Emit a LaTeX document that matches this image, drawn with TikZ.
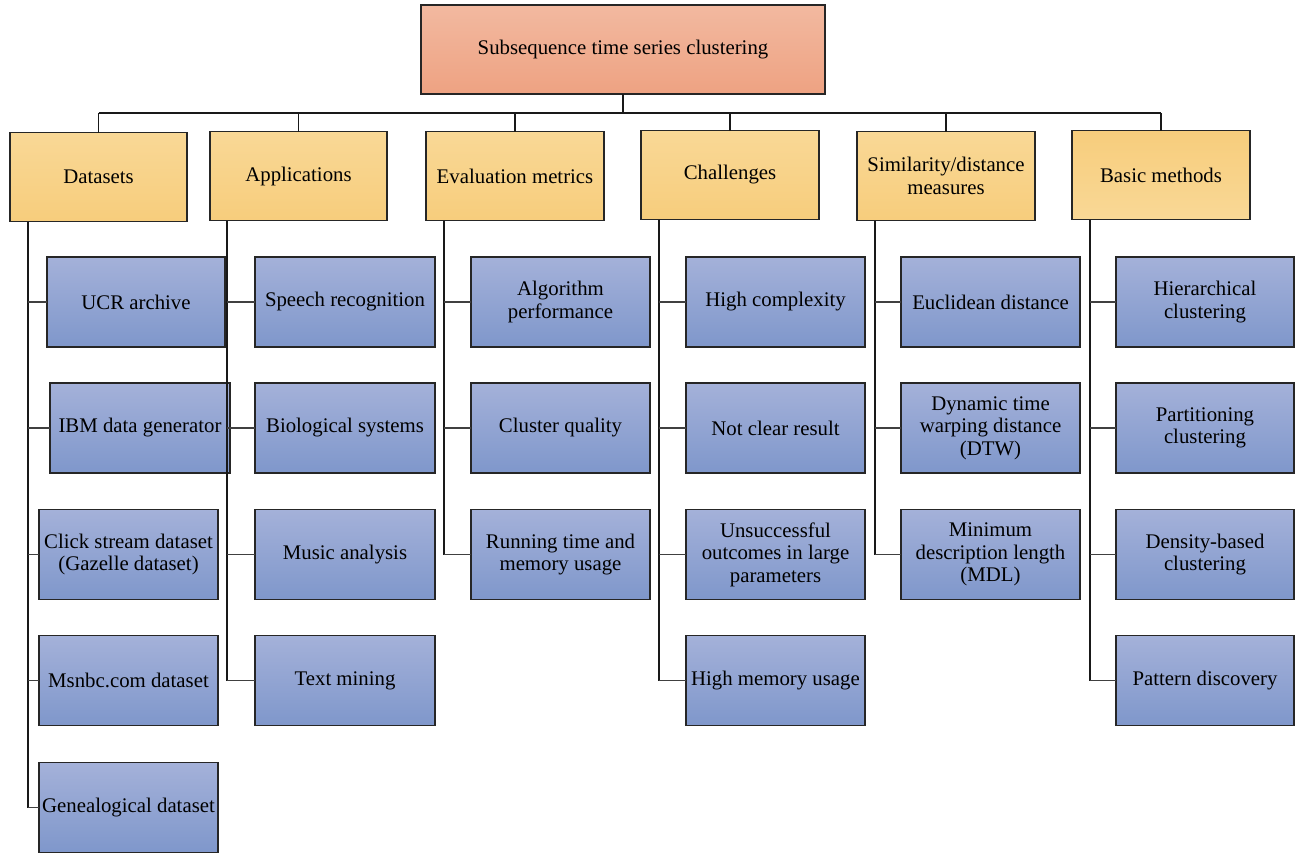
\documentclass[tikz,border=0pt]{standalone}
\usepackage{fontspec}
\setmainfont{Liberation Serif}
\begin{document}
\begin{tikzpicture}[x=0.75pt,y=-0.75pt,
  every node/.style={outer sep=0pt,inner sep=1pt,align=center,font=\fontsize{15.6}{16.8}\selectfont},
  base/.style={draw=black!85,line width=0.8pt,minimum width=#1*0.75pt},
  topbox/.style={base=#1,top color=topA,bottom color=topB,minimum height=89*0.75pt},
  catbox/.style={base=#1,top color=catA,bottom color=catB,minimum height=89*0.75pt},
  catboxr/.style={base=#1,top color=catB,bottom color=catA,minimum height=89*0.75pt},
  leaf/.style={base=#1,top color=leafA,bottom color=leafB,minimum height=90*0.75pt},
  conn/.style={draw=black!90,line width=1pt},
  stub/.style={draw=black!75,line width=0.9pt}
]
\definecolor{topA}{HTML}{F2B9A0}
\definecolor{topB}{HTML}{EEA282}
\definecolor{catA}{HTML}{F9D896}
\definecolor{catB}{HTML}{F7CD7C}
\definecolor{leafA}{HTML}{A4B1D9}
\definecolor{leafB}{HTML}{7F97CB}
\useasboundingbox (0,0) rectangle (1295,853);

% root
\node[topbox=404] (root) at (623,49.5) {Subsequence time series clustering};

% categories
\node[catbox=177] (ds) at (98.5,177) {Datasets};
\node[catbox=177] (ap) at (298.5,176) {Applications};
\node[catbox=178] (ev) at (515,176) {Evaluation metrics};
\node[catbox=178] (ch) at (730,175) {Challenges};
\node[catbox=178] (sm) at (946,176) {Similarity/distance\\measures};
\node[catboxr=178] (bm) at (1161,175) {Basic methods};

% bus
\coordinate (bus) at (623,113);
\draw[conn] (root.south) -- (bus);
\draw[conn] (ds.north |- bus) -- (bm.north |- bus);
\foreach \n in {ds,ap,ev,ch,sm,bm}{\draw[conn] (\n.north) -- (\n.north |- bus);}

% datasets
\node[leaf=178] (d1) at (136,302) {UCR archive};
\node[leaf=180] (d2) at (140,428) {IBM data generator};
\node[leaf=179] (d3) at (128.5,554.5) {Click stream dataset\\(Gazelle dataset)};
\node[leaf=179] (d4) at (128.5,680.5) {Msnbc.com dataset};
\node[leaf=179] (d5) at (128.5,807.5) {Genealogical dataset};

% applications
\node[leaf=180] (a1) at (345,302) {Speech recognition};
\node[leaf=180] (a2) at (345,428) {Biological systems};
\node[leaf=180] (a3) at (345,554.5) {Music analysis};
\node[leaf=180] (a4) at (345,680.5) {Text mining};

% evaluation
\node[leaf=179] (e1) at (560.5,302) {Algorithm\\performance};
\node[leaf=179] (e2) at (560.5,428) {Cluster quality};
\node[leaf=179] (e3) at (560.5,554.5) {Running time and\\memory usage};

% challenges
\node[leaf=179] (c1) at (775.5,302) {High complexity};
\node[leaf=179] (c2) at (775.5,428) {Not clear result};
\node[leaf=179] (c3) at (775.5,554.5) {Unsuccessful\\outcomes in large\\parameters};
\node[leaf=179] (c4) at (775.5,680.5) {High memory usage};

% similarity
\node[leaf=179] (s1) at (990.5,302) {Euclidean distance};
\node[leaf=179] (s2) at (990.5,428) {Dynamic time\\warping distance\\(DTW)};
\node[leaf=179] (s3) at (990.5,554.5) {Minimum\\description length\\(MDL)};

% basic methods
\node[leaf=178] (b1) at (1205,302) {Hierarchical\\clustering};
\node[leaf=178] (b2) at (1205,428) {Partitioning\\clustering};
\node[leaf=178] (b3) at (1205,554.5) {Density-based\\clustering};
\node[leaf=178] (b4) at (1205,680.5) {Pattern discovery};

% spines
\coordinate (dsS) at ([xshift=18*0.75pt]ds.south west);
\coordinate (apS) at ([xshift=17*0.75pt]ap.south west);
\coordinate (evS) at ([xshift=18*0.75pt]ev.south west);
\coordinate (chS) at ([xshift=18*0.75pt]ch.south west);
\coordinate (smS) at ([xshift=18*0.75pt]sm.south west);
\coordinate (bmS) at ([xshift=18*0.75pt]bm.south west);

\draw[conn] (dsS) -- (dsS |- d5.west);
\draw[conn] (apS) -- (apS |- a4.west);
\draw[conn] (evS) -- (evS |- e3.west);
\draw[conn] (chS) -- (chS |- c4.west);
\draw[conn] (smS) -- (smS |- s3.west);
\draw[conn] (bmS) -- (bmS |- b4.west);

\foreach \s/\l in {ds/d1,ds/d2,ds/d3,ds/d4,ds/d5,ap/a1,ap/a2,ap/a3,ap/a4,ev/e1,ev/e2,ev/e3,ch/c1,ch/c2,ch/c3,ch/c4,sm/s1,sm/s2,sm/s3,bm/b1,bm/b2,bm/b3,bm/b4}
  {\draw[stub] (\s S |- \l.west) -- (\l.west);}
\end{tikzpicture}
\end{document}
